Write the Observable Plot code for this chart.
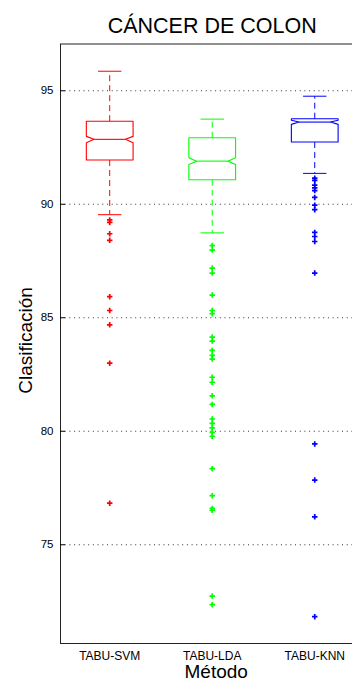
<!DOCTYPE html>
<html>
<head>
<meta charset="utf-8">
<script src="https://cdn.jsdelivr.net/npm/d3@7"></script>
<script src="https://cdn.jsdelivr.net/npm/@observablehq/plot@0.6"></script>
<style>
  html, body { margin: 0; padding: 0; background: #fff; overflow: hidden; }
  #chart svg { display: block; overflow: hidden; }
</style>
</head>
<body>
<div id="chart"></div>
<script>
const title = "CÁNCER DE COLON";
const xLabel = "Método";
const yLabel = "Clasificación";
const methods = ["TABU-SVM", "TABU-LDA", "TABU-KNN"];
const colors = ["#ff0000", "#00ff00", "#0000ff"];
const yTicks = [75, 80, 85, 90, 95];

// box statistics per method
const whiskerHi = [95.86, 93.75, 94.76];
const q3 =        [93.66, 92.93, 93.77];
const notchHi =   [92.99, 92.05, 93.70];
const median =    [92.86, 91.90, 93.62];
const notchLo =   [92.71, 91.75, 93.52];
const q1 =        [91.95, 91.08, 92.74];
const whiskerLo = [89.54, 88.74, 91.36];

// outliers per method
const outSVM = [89.31, 89.20, 88.70, 88.41, 85.93, 85.32, 84.69, 83.00, 76.83];
const outLDA = [88.18, 87.98, 87.19, 86.97, 86.00, 85.32, 85.18, 84.15, 83.97, 83.56, 83.34, 83.18,
                82.38, 82.16, 81.56, 81.18, 80.54, 80.35, 80.15, 79.95, 79.78, 78.35, 77.16, 76.60,
                76.52, 72.74, 72.36];
const outKNN = [91.15, 91.05, 90.84, 90.72, 90.60, 90.30, 89.96, 89.76, 88.76, 88.58, 88.36, 86.97,
                79.44, 77.85, 76.23, 71.83];

// geometry (in x-scale units)
const boxHalf = 0.228, notchInset = 0.075, capHalf = 0.114;

const stats = methods.map((m, i) => ({
  m, pos: i + 1, wHi: whiskerHi[i], q3: q3[i], nHi: notchHi[i], med: median[i],
  nLo: notchLo[i], q1: q1[i], wLo: whiskerLo[i]
}));

const boxPts = stats.flatMap(s => {
  const L = s.pos - boxHalf, R = s.pos + boxHalf;
  const Li = L + notchInset, Ri = R - notchInset;
  return [
    [L, s.q1], [L, s.nLo], [Li, s.med], [L, s.nHi], [L, s.q3],
    [R, s.q3], [R, s.nHi], [Ri, s.med], [R, s.nLo], [R, s.q1], [L, s.q1]
  ].map(([x, y]) => ({m: s.m, x, y}));
});

const outliers = [outSVM, outLDA, outKNN].flatMap((arr, i) =>
  arr.map(v => ({m: methods[i], pos: i + 1, v})));

const font = "'Liberation Sans', Arial, Helvetica, sans-serif";

const chart = Plot.plot({
  width: 352,
  height: 679,
  marginTop: 43.5,
  marginBottom: 36,
  marginLeft: 60,
  marginRight: -13.5,
  style: {fontFamily: font, background: "#fff", color: "#000", overflow: "hidden"},
  x: {domain: [0.52, 3.5], range: [60, 365.5]},
  y: {domain: [70.65, 97.06]},
  color: {domain: methods, range: colors},
  marks: [
    Plot.gridY(yTicks, {stroke: "#333", strokeOpacity: 1, strokeDasharray: "1,3.7"}),
    Plot.frame({stroke: "#222"}),
    Plot.axisY(yTicks, {tickSize: -5, tickPadding: 12, fontSize: 11.5, color: "#000"}),
    Plot.axisX([1, 2, 3], {tickSize: 0, tickPadding: 8, fontSize: 12, color: "#000",
      tickFormat: i => methods[i - 1], letterSpacing: "0.5px"}),
    // whiskers
    Plot.link(stats, {x1: "pos", x2: "pos", y1: "q3", y2: "wHi", stroke: "m", strokeDasharray: "6,4"}),
    Plot.link(stats, {x1: "pos", x2: "pos", y1: "q1", y2: "wLo", stroke: "m", strokeDasharray: "6,4"}),
    Plot.link(stats, {x1: d => d.pos - capHalf, x2: d => d.pos + capHalf, y1: "wHi", y2: "wHi", stroke: "m"}),
    Plot.link(stats, {x1: d => d.pos - capHalf, x2: d => d.pos + capHalf, y1: "wLo", y2: "wLo", stroke: "m"}),
    // notched box
    Plot.line(boxPts, {x: "x", y: "y", z: "m", stroke: "m", strokeWidth: 1.1}),
    // median
    Plot.link(stats, {x1: d => d.pos - boxHalf + notchInset, x2: d => d.pos + boxHalf - notchInset,
      y1: "med", y2: "med", stroke: "m", strokeWidth: 1.1}),
    // outliers
    Plot.dot(outliers, {x: "pos", y: "v", symbol: "plus", r: 1.9, stroke: "m", strokeWidth: 1.7}),
    // title & labels
    Plot.text([title], {x: () => 2, frameAnchor: "top", lineAnchor: "bottom", dy: -11,
      fontSize: 21.5, fill: "#000", text: d => d}),
    Plot.text([xLabel], {x: () => 2, frameAnchor: "bottom", lineAnchor: "bottom", dy: 34, dx: 4,
      fontSize: 19, fill: "#000", text: d => d}),
    Plot.text([yLabel], {frameAnchor: "left", rotate: -90, lineAnchor: "bottom", dx: -29, dy: 50,
      fontSize: 19, fill: "#000", text: d => d})
  ]
});
document.getElementById("chart").appendChild(chart);
</script>
</body>
</html>
